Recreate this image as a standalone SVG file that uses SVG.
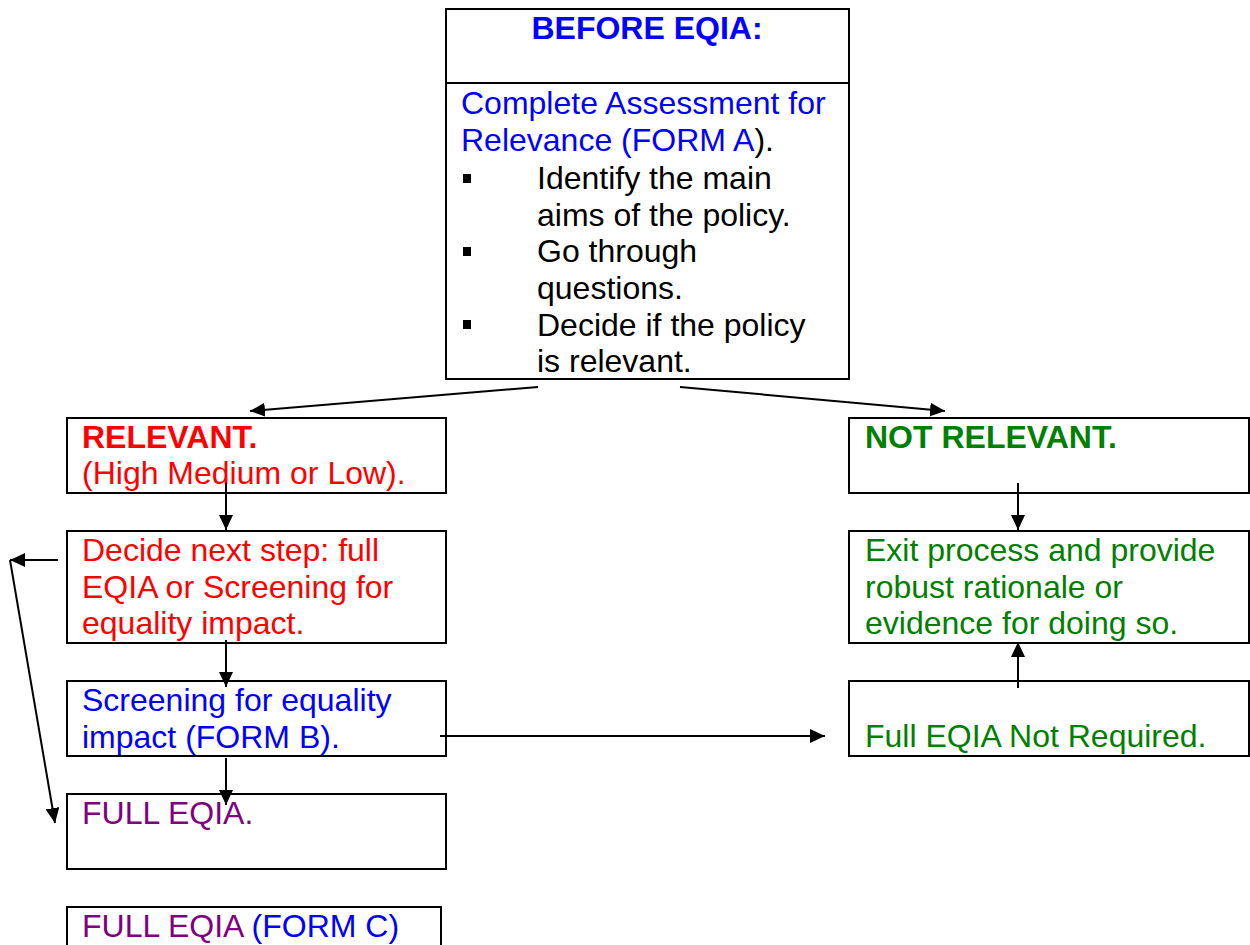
<svg xmlns="http://www.w3.org/2000/svg" width="1250" height="945" viewBox="0 0 1250 945">
<defs>
<style>
text{font-family:"Liberation Sans",Arial,sans-serif;font-size:32px}
.b{fill:#0000FF}.r{fill:#FF0000}.g{fill:#008000}.p{fill:#800080}.k{fill:#000}
.bold{font-weight:bold}
rect.box{fill:#fff;stroke:#000;stroke-width:2}
.c line{stroke:#000;stroke-width:2;marker-end:url(#ah)}
</style>
<marker id="ah" viewBox="0 0 15 14" refX="15" refY="7" markerWidth="15" markerHeight="14" markerUnits="userSpaceOnUse" orient="auto">
<path d="M0,0 L15,7 L0,14 Z" fill="#000"/>
</marker>
</defs>
<g id="before">
<rect class="box" x="446" y="9" width="403" height="370"/>
<line x1="446" y1="83" x2="849" y2="83" stroke="#000" stroke-width="2"/>
<text x="647" y="39" text-anchor="middle" class="b bold" font-size="28">BEFORE EQIA:</text>
<text x="461" y="114" class="b">Complete Assessment for</text>
<text x="461" y="151"><tspan class="b">Relevance (FORM A</tspan><tspan class="k">).</tspan></text>
<rect x="463" y="174" width="8" height="9" fill="#000"/>
<rect x="463" y="247" width="8" height="9" fill="#000"/>
<rect x="463" y="320" width="8" height="9" fill="#000"/>
<text x="537" y="189" class="k">Identify the main</text>
<text x="537" y="226" class="k">aims of the policy.</text>
<text x="537" y="262" class="k">Go through</text>
<text x="537" y="299" class="k">questions.</text>
<text x="537" y="336" class="k">Decide if the policy</text>
<text x="537" y="372" class="k">is relevant.</text>
</g>
<g id="relevant">
<rect class="box" x="67" y="418" width="379" height="75"/>
<text x="82" y="448" class="r bold" font-size="28">RELEVANT.</text>
<text x="82" y="484" class="r">(High Medium or Low).</text>
</g>
<g id="decide">
<rect class="box" x="67" y="531" width="379" height="112"/>
<text x="82" y="561" class="r">Decide next step: full</text>
<text x="82" y="598" class="r">EQIA or Screening for</text>
<text x="82" y="634" class="r">equality impact.</text>
</g>
<g id="screening">
<rect class="box" x="67" y="681" width="379" height="75"/>
<text x="82" y="711" class="b">Screening for equality</text>
<text x="82" y="748" class="b">impact (FORM B).</text>
</g>
<g id="fullEqia">
<rect class="box" x="67" y="794" width="379" height="75"/>
<text x="82" y="824" class="p">FULL EQIA.</text>
</g>
<g id="formC">
<rect class="box" x="67" y="907" width="374" height="45"/>
<text x="82" y="937"><tspan class="p">FULL EQIA </tspan><tspan class="b">(FORM C)</tspan></text>
</g>
<g id="notRelevant">
<rect class="box" x="849" y="418" width="400" height="75"/>
<text x="865" y="448" class="g bold" font-size="28">NOT RELEVANT.</text>
</g>
<g id="exit">
<rect class="box" x="849" y="531" width="400" height="112"/>
<text x="865" y="561" class="g">Exit process and provide</text>
<text x="865" y="598" class="g">robust rationale or</text>
<text x="865" y="634" class="g">evidence for doing so.</text>
</g>
<g id="notRequired">
<rect class="box" x="849" y="681" width="400" height="75"/>
<text x="865" y="747" class="g">Full EQIA Not Required.</text>
</g>
<g id="connectors" class="c">
<line x1="538" y1="387" x2="250" y2="411"/>
<line x1="680" y1="387" x2="945" y2="411"/>
<line x1="226" y1="483" x2="226" y2="530"/>
<line x1="58" y1="560" x2="10" y2="560"/>
<line x1="10" y1="560" x2="55" y2="823"/>
<line x1="226" y1="640" x2="226" y2="687"/>
<line x1="226" y1="758" x2="226" y2="805"/>
<line x1="440" y1="736" x2="825" y2="736"/>
<line x1="1018" y1="483" x2="1018" y2="530"/>
<line x1="1018" y1="688" x2="1018" y2="642"/>
</g>
</svg>
